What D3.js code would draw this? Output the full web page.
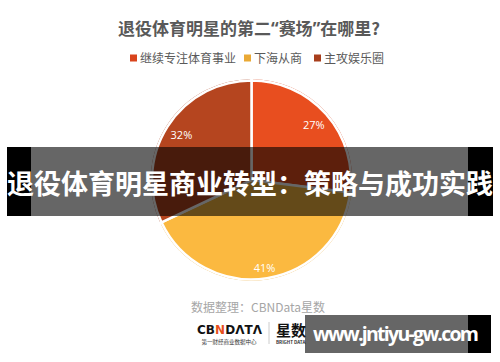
<!DOCTYPE html>
<meta charset="utf-8">
<style>
  body { margin: 0; background: #fff; }
  svg { display: block; font-family: "Noto Sans CJK SC", "Noto Sans", sans-serif; }
  .title { fill: #595959; font-weight: bold; font-size: 17px; }
  .title .q { font-family: "Open Sans", "Noto Sans", sans-serif; }
  .legend text { fill: #595959; font-size: 12px; }
  .slice-label { fill: #fff; font-size: 11px; font-family: "Open Sans", "Noto Sans", sans-serif; }
  .source { fill: #a6a6a6; font-size: 12px; }
</style>
<svg width="500" height="362"></svg>
<script src="https://cdn.jsdelivr.net/npm/d3@7/dist/d3.min.js"></script>
<script>
  var categories = ["继续专注体育事业", "下海从商", "主攻娱乐圈"];
  var shares = [27, 41, 32];
  var fills = ["#e84e1f", "#fbb940", "#b5451f"];
  var borders = ["#d9441c", "#eaa935", "#a83e1c"];
  var titleParts = ["退役体育明星的第二", "“", "赛场", "”", "在哪里?"];
  var bannerText = "退役体育明星商业转型：策略与成功实践";
  var sourceText = "数据整理：CBNData星数";
  var watermarkText = "www.jntiyu-gw.com";

  var svg = d3.select("svg");
  var cx = 251.5, cy = 180, r = 102;

  svg.append("text")
    .attr("class", "title")
    .attr("x", 249)
    .attr("y", 35)
    .attr("text-anchor", "middle")
    .selectAll("tspan")
    .data(titleParts)
    .enter().append("tspan")
    .attr("class", function(d) { return d.length === 1 && /[“”]/.test(d) ? "q" : null; })
    .text(function(d) { return d; });

  // legend
  var legend = svg.append("g").attr("class", "legend");
  var legendX = [130, 244, 314];
  var items = legend.selectAll("g")
    .data(categories)
    .enter().append("g")
    .attr("transform", function(d, i) { return "translate(" + legendX[i] + ",58)"; });
  items.append("rect")
    .attr("y", -3.5)
    .attr("width", 7)
    .attr("height", 7)
    .attr("fill", function(d, i) { return borders[i]; });
  items.append("text")
    .attr("x", 10)
    .attr("y", 4.5)
    .text(function(d) { return d; });

  // pie
  var pie = d3.pie().sort(null).value(function(d) { return d; });
  var arcs = pie(shares);
  var arc = d3.arc().innerRadius(0).outerRadius(r);
  var innerArc = d3.arc().innerRadius(0).outerRadius(r - 2.5);
  var labelArc = d3.arc().innerRadius(83).outerRadius(83);

  var g = svg.append("g").attr("transform", "translate(" + cx + "," + cy + ")");
  g.selectAll("path.outer")
    .data(arcs)
    .enter().append("path")
    .attr("class", "outer")
    .attr("d", arc)
    .attr("fill", function(d, i) { return borders[i]; })
    .attr("stroke", "#fff")
    .attr("stroke-width", 2.5)
    .attr("stroke-linejoin", "round");
  g.selectAll("path.inner")
    .data(arcs)
    .enter().append("path")
    .attr("class", "inner")
    .attr("d", innerArc)
    .attr("fill", function(d, i) { return fills[i]; })
    .attr("stroke", "#fff")
    .attr("stroke-width", 2.5);

  g.selectAll("text")
    .data(arcs)
    .enter().append("text")
    .attr("class", "slice-label")
    .attr("transform", function(d) {
      var c = labelArc.centroid(d);
      if (d.index === 1) c[1] += 6;
      return "translate(" + c + ")";
    })
    .attr("text-anchor", "middle")
    .attr("dy", "0.35em")
    .text(function(d) { return d.data + "%"; });

  // source + logo
  svg.append("text")
    .attr("class", "source")
    .attr("x", 191)
    .attr("y", 312)
    .text(sourceText);

  var logo = svg.append("g");
  var cbn = logo.append("text")
    .attr("x", 197)
    .attr("y", 334)
    .attr("font-family", "DejaVu Sans, sans-serif")
    .attr("font-weight", "bold")
    .attr("font-size", 12)
    .attr("textLength", 65)
    .attr("fill", "#111");
  cbn.append("tspan").text("CB");
  cbn.append("tspan").attr("fill", "#e8501f").text("N");
  cbn.append("tspan").text("DΛTΛ");
  logo.append("text")
    .attr("x", 229)
    .attr("y", 344)
    .attr("text-anchor", "middle")
    .attr("font-size", 5.5)
    .attr("fill", "#333")
    .text("第一财经商业数据中心");
  logo.append("line")
    .attr("x1", 269).attr("x2", 269)
    .attr("y1", 322).attr("y2", 344)
    .attr("stroke", "#ccc");
  logo.append("text")
    .attr("x", 276)
    .attr("y", 336)
    .attr("font-weight", "bold")
    .attr("font-size", 15)
    .attr("fill", "#111")
    .text("星数");
  logo.append("text")
    .attr("x", 276)
    .attr("y", 344)
    .attr("font-size", 4.5)
    .attr("font-weight", "bold")
    .attr("fill", "#333")
    .text("BRIGHT DATA");

  // banner overlay
  svg.append("rect").attr("x", 7).attr("y", 147).attr("width", 24).attr("height", 69).attr("fill", "#000");
  svg.append("rect").attr("x", 468).attr("y", 147).attr("width", 25).attr("height", 69).attr("fill", "#000");
  svg.append("rect").attr("x", 31).attr("y", 147).attr("width", 437).attr("height", 69).attr("fill", "rgba(0,0,0,0.6)");
  svg.append("text")
    .attr("x", 250)
    .attr("y", 194)
    .attr("text-anchor", "middle")
    .attr("font-size", 27)
    .attr("font-weight", "bold")
    .attr("fill", "#fff")
    .attr("textLength", 486)
    .text(bannerText);

  // watermark
  svg.append("rect").attr("x", 468).attr("y", 315).attr("width", 23).attr("height", 38).attr("fill", "#000");
  svg.append("rect").attr("x", 305).attr("y", 315).attr("width", 163).attr("height", 38).attr("fill", "rgba(0,0,0,0.6)");
  svg.append("text")
    .attr("x", 313)
    .attr("y", 341)
    .attr("font-family", "Open Sans, Noto Sans, sans-serif")
    .attr("font-size", 19.5)
    .attr("font-weight", "bold")
    .attr("fill", "#fff")
    .attr("textLength", 166)
    .text(watermarkText);
</script>
